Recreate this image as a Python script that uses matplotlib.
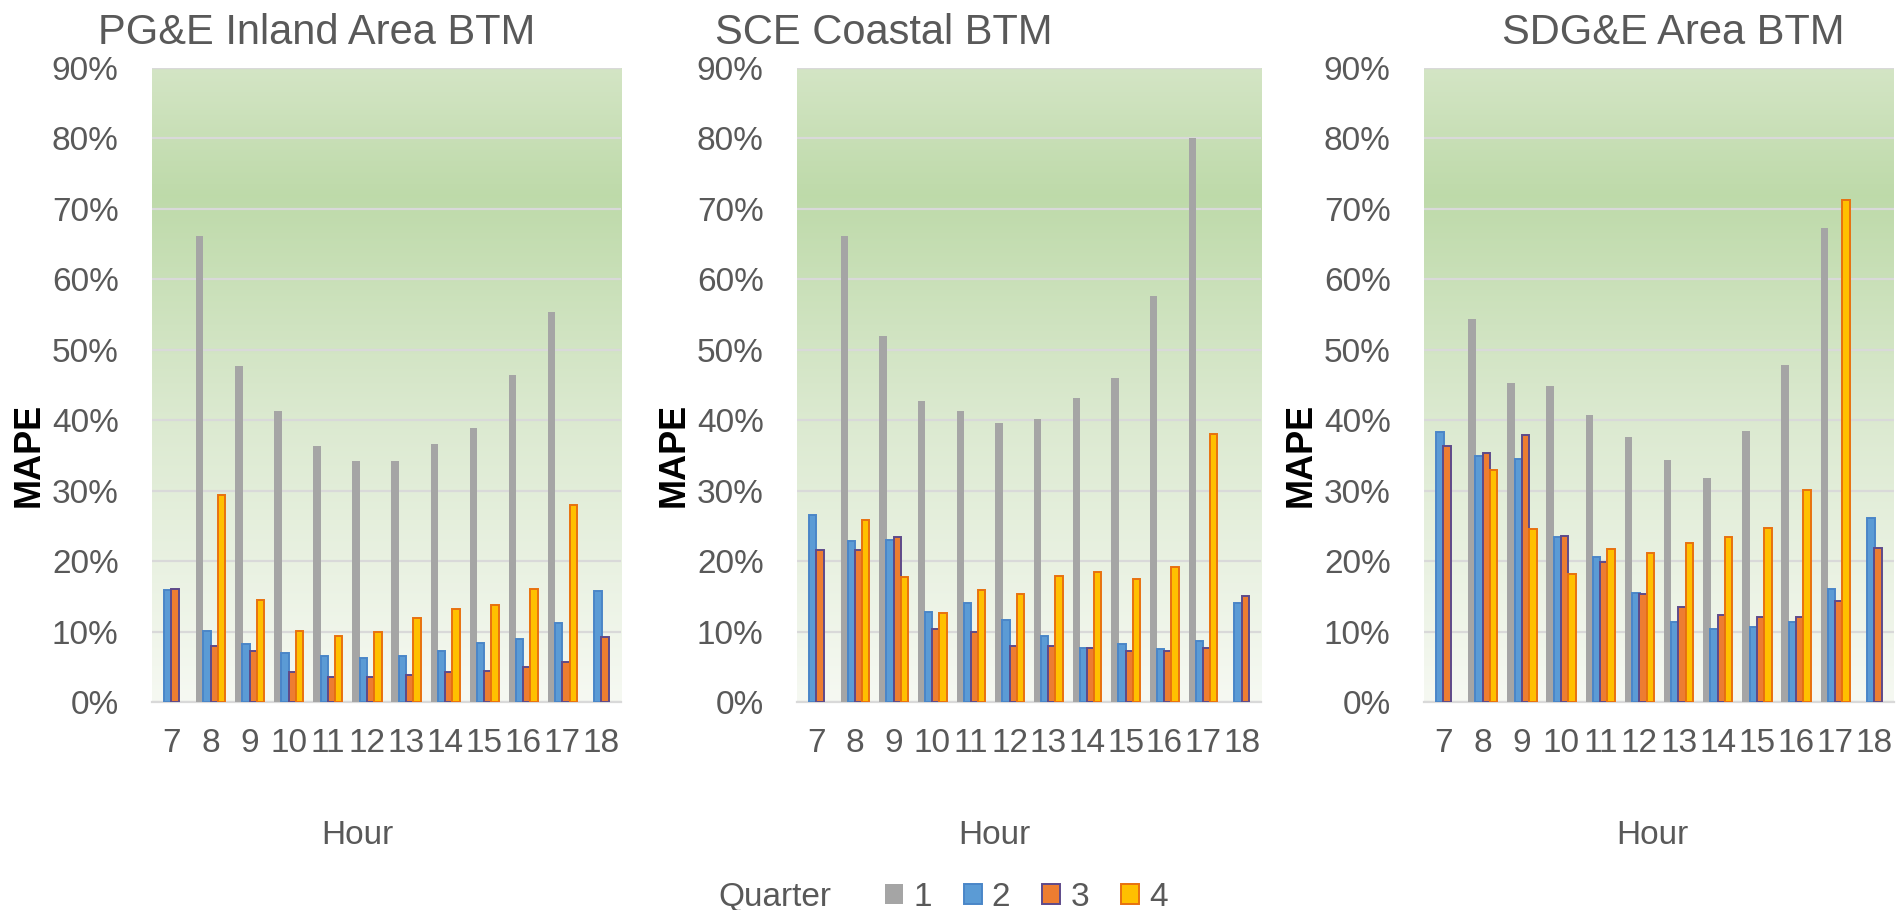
import numpy as np
import matplotlib
matplotlib.use("Agg")
import matplotlib.pyplot as plt
from matplotlib.patches import Patch
from matplotlib.ticker import PercentFormatter

plt.rcParams['font.family'] = ['Liberation Sans', 'DejaVu Sans']

hours = [7, 8, 9, 10, 11, 12, 13, 14, 15, 16, 17, 18]
quarters = ['1', '2', '3', '4']
nan = np.nan

titles = ["PG&E Inland Area BTM", "SCE Coastal BTM", "SDG&E Area BTM"]

# MAPE (%) per quarter, per hour
pge_q1 = [nan, 66.1, 47.7, 41.3, 36.4, 34.2, 34.2, 36.6, 38.9, 46.4, 55.3, nan]
pge_q2 = [15.9, 10.1, 8.3, 7.0, 6.6, 6.3, 6.6, 7.2, 8.4, 9.0, 11.2, 15.7]
pge_q3 = [16.1, 7.9, 7.2, 4.2, 3.5, 3.5, 3.9, 4.3, 4.4, 5.0, 5.7, 9.2]
pge_q4 = [nan, 29.4, 14.5, 10.1, 9.4, 9.9, 11.9, 13.2, 13.7, 16.1, 27.9, nan]

sce_q1 = [nan, 66.1, 51.9, 42.7, 41.3, 39.6, 40.2, 43.1, 46.0, 57.6, 80.1, nan]
sce_q2 = [26.5, 22.8, 23.0, 12.8, 14.1, 11.7, 9.4, 7.7, 8.3, 7.5, 8.6, 14.1]
sce_q3 = [21.6, 21.6, 23.4, 10.4, 9.9, 7.9, 7.9, 7.7, 7.3, 7.2, 7.7, 15.0]
sce_q4 = [nan, 25.9, 17.7, 12.6, 15.9, 15.4, 17.9, 18.5, 17.5, 19.2, 38.0, nan]

sdge_q1 = [nan, 54.3, 45.3, 44.9, 40.7, 37.6, 34.4, 31.8, 38.4, 47.8, 67.3, nan]
sdge_q2 = [38.3, 34.9, 34.5, 23.4, 20.6, 15.5, 11.4, 10.3, 10.6, 11.4, 16.1, 26.1]
sdge_q3 = [36.4, 35.4, 37.9, 23.6, 19.9, 15.4, 13.5, 12.4, 12.1, 12.1, 14.3, 21.9]
sdge_q4 = [nan, 33.0, 24.5, 18.1, 21.7, 21.2, 22.6, 23.4, 24.7, 30.1, 71.3, nan]

panels = [
    (pge_q1, pge_q2, pge_q3, pge_q4),
    (sce_q1, sce_q2, sce_q3, sce_q4),
    (sdge_q1, sdge_q2, sdge_q3, sdge_q4),
]

face = ['#A5A5A5', '#5B9BD5', '#ED7D31', '#FFC000']
edge = ['none', '#4A86C8', '#5E4A8A', '#E8710F']

W, H = 1901, 910
fig = plt.figure(figsize=(W / 100, H / 100), dpi=100)

# pixel layout
ax_left = [152, 797, 1424]
ax_right = [621, 1261, 1894]
ax_top, ax_bot = 68, 702
title_cx = [317, 884, 1673]
hour_cx = [357, 994, 1652]
txt = '#595959'

# background gradient
grad_vals = np.linspace(0, 1, 256)
def grad_color(t):
    # t: 0 bottom -> 1 top
    stops = [(0.0, (0.965, 0.976, 0.950)), (0.45, (0.860, 0.915, 0.815)),
             (0.80, (0.745, 0.855, 0.665)), (1.0, (0.830, 0.898, 0.772))]
    for (t0, c0), (t1, c1) in zip(stops[:-1], stops[1:]):
        if t0 <= t <= t1:
            f = (t - t0) / (t1 - t0)
            return [c0[i] + (c1[i] - c0[i]) * f for i in range(3)]
    return stops[-1][1]
img = np.array([[grad_color(t)] for t in grad_vals[::-1]])

x = np.arange(len(hours))
bw = 0.19
step = 0.185

for p, series in enumerate(panels):
    l, r = ax_left[p], ax_right[p]
    ax = fig.add_axes([l / W, 1 - ax_bot / H, (r - l) / W, (ax_bot - ax_top) / H])
    ax.set_xlim(-0.5, len(hours) - 0.5)
    ax.set_ylim(0, 0.9)
    ax.imshow(img, extent=[-0.5, len(hours) - 0.5, 0, 0.9], aspect='auto', zorder=0,
              interpolation='bilinear')
    for k, vals in enumerate(series):
        v = np.array(vals, dtype=float) / 100.0
        ax.bar(x + (k - 1.5) * step, v, width=bw, color=face[k],
               edgecolor=edge[k], linewidth=0 if k == 0 else 1.4, zorder=3)
    ax.set_yticks(np.arange(0, 0.91, 0.1))
    ax.yaxis.set_major_formatter(PercentFormatter(1.0, decimals=0))
    ax.set_xticks(x)
    ax.set_xticklabels([str(h) for h in hours])
    ax.tick_params(axis='both', length=0, labelsize=24, colors=txt)
    ax.tick_params(axis='y', pad=24)
    ax.tick_params(axis='x', pad=19)
    ax.grid(axis='y', color='#D9D9D9', linewidth=1.6, zorder=1)
    ax.set_axisbelow(True)
    for s in ['left', 'right', 'top']:
        ax.spines[s].set_visible(False)
    ax.spines['bottom'].set_color('#D9D9D9')
    ax.spines['bottom'].set_linewidth(1.6)
    ax.axhline(0.9, color='#D9D9D9', linewidth=1.6, zorder=1)

    fig.text(title_cx[p] / W, 1 - 44 / H, titles[p], ha='center', va='baseline',
             fontsize=30, color=txt)
    fig.text(hour_cx[p] / W, 1 - 836 / H, 'Hour', ha='center', va='center',
             fontsize=24, color=txt)
    fig.text((l - 123) / W, 1 - 455 / H, 'MAPE', ha='center', va='center',
             rotation=90, fontsize=26, fontweight='bold', color='black')

# legend
fig.text(718 / W, 1 - 897 / H, 'Quarter', ha='left', va='center', fontsize=24, color=txt)
handles = [Patch(facecolor=face[k], edgecolor=edge[k] if k else face[k],
                 linewidth=1.4 if k else 0) for k in range(4)]
leg = fig.legend(handles, quarters, loc='center left', bbox_to_anchor=(885 / W, 1 - 897 / H),
                 ncol=4, frameon=False, fontsize=24, handlelength=0.55, handleheight=0.55,
                 handletextpad=0.3, columnspacing=0.95, borderpad=0, borderaxespad=0)
for t in leg.get_texts():
    t.set_color(txt)

fig.savefig('out.png', dpi=100)
